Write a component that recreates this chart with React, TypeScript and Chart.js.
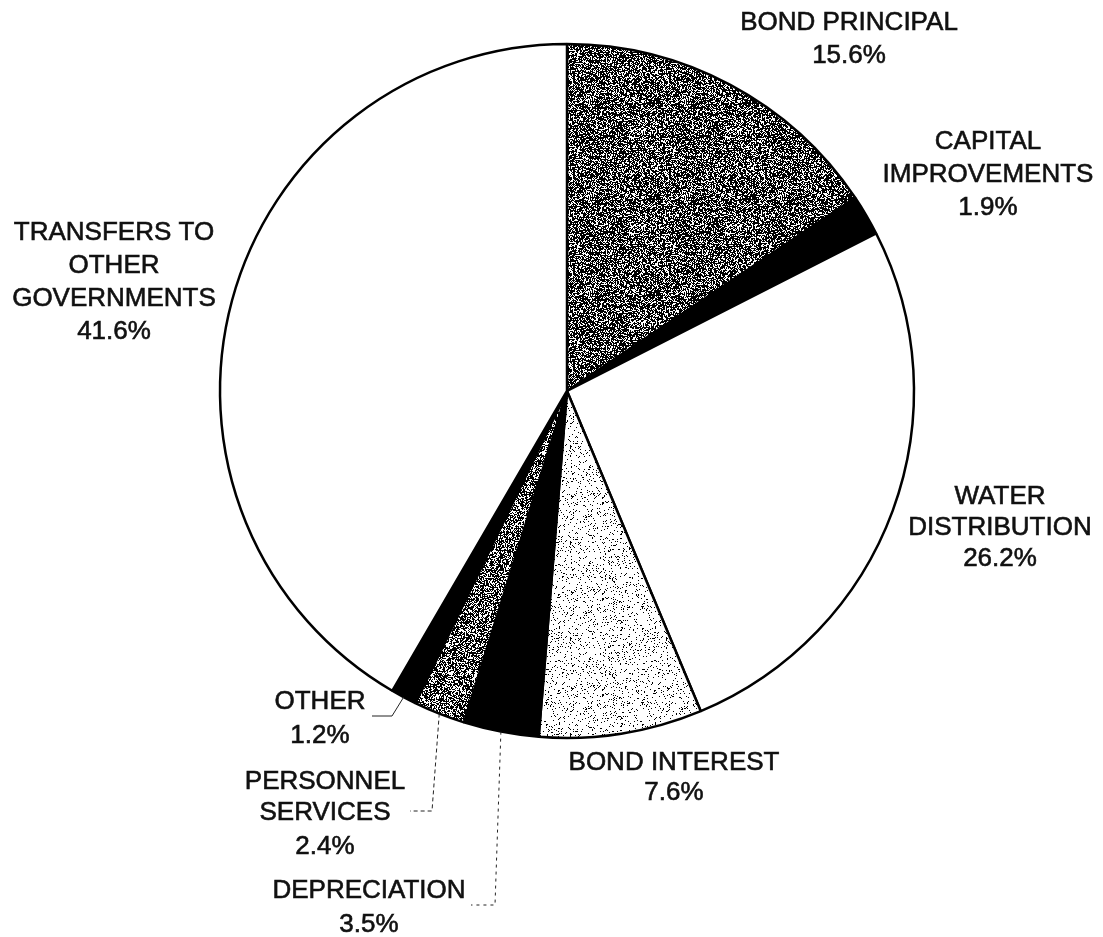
import React, { useEffect, useRef } from "react";
import { Chart, registerables } from "chart.js";

Chart.register(...registerables);

// ---- data ----
const categories = [
  "BOND PRINCIPAL",
  "CAPITAL IMPROVEMENTS",
  "WATER DISTRIBUTION",
  "BOND INTEREST",
  "DEPRECIATION",
  "PERSONNEL SERVICES",
  "OTHER",
  "TRANSFERS TO OTHER GOVERNMENTS",
];
const values = [15.6, 1.9, 26.2, 7.6, 3.5, 2.4, 1.2, 41.6];
const labelLines = [
  ["BOND PRINCIPAL"],
  ["CAPITAL", "IMPROVEMENTS"],
  ["WATER", "DISTRIBUTION"],
  ["BOND INTEREST"],
  ["DEPRECIATION"],
  ["PERSONNEL", "SERVICES"],
  ["OTHER"],
  ["TRANSFERS TO", "OTHER", "GOVERNMENTS"],
];

// ---- layout / style ----
const W = 1103;
const H = 937;
const FONT = '26px "Liberation Sans", Arial, Helvetica, sans-serif';
// label anchor: x center, y cap-centers of each line (name lines + percent line)
const labelPos: { x: number; ys: number[] }[] = [
  { x: 849, ys: [20, 53] },
  { x: 988, ys: [139, 172, 205] },
  { x: 1000, ys: [494, 525, 556] },
  { x: 674, ys: [760, 790] },
  { x: 369, ys: [888, 922] },
  { x: 325, ys: [779, 810, 844] },
  { x: 320, ys: [699, 733] },
  { x: 114, ys: [230, 263, 296, 329] },
];
// leader lines: elbow and end points, dash pattern
const leaders: { idx: number; elbow: [number, number]; end: [number, number]; dash: number[] }[] = [
  { idx: 6, elbow: [392, 716], end: [372, 716], dash: [] },
  { idx: 5, elbow: [432, 811], end: [410, 811], dash: [4, 3] },
  { idx: 4, elbow: [495, 905], end: [471, 905], dash: [3, 4] },
];

function hash(x: number, y: number, seed: number): number {
  let h = Math.imul(x, 374761393) + Math.imul(y, 668265263) + Math.imul(seed, 1442695041);
  h = Math.imul(h ^ (h >>> 13), 1274126177);
  h ^= h >>> 16;
  return (h >>> 0) / 4294967296;
}

function makeStipple(darkFraction: number, seed: number): CanvasPattern | string {
  const size = 96;
  const c = document.createElement("canvas");
  c.width = size;
  c.height = size;
  const ctx = c.getContext("2d");
  if (!ctx) return "#888";
  const img = ctx.createImageData(size, size);
  for (let y = 0; y < size; y++) {
    for (let x = 0; x < size; x++) {
      const r = hash(x, y, seed);
      const v = r < darkFraction ? 0 : 255;
      const i = (y * size + x) * 4;
      img.data[i] = v;
      img.data[i + 1] = v;
      img.data[i + 2] = v;
      img.data[i + 3] = 255;
    }
  }
  ctx.putImageData(img, 0, 0);
  const p = ctx.createPattern(c, "repeat");
  return p || "#888";
}

const labelPlugin = {
  id: "pieLabels",
  afterDraw(chart: any) {
    const ctx = chart.ctx as CanvasRenderingContext2D;
    const meta = chart.getDatasetMeta(0);
    ctx.save();
    // leader lines
    ctx.strokeStyle = "#222";
    ctx.lineWidth = 1;
    for (const l of leaders) {
      const arc = meta.data[l.idx] as any;
      const p = arc.getProps(["x", "y", "startAngle", "endAngle", "outerRadius"], true);
      const mid = (p.startAngle + p.endAngle) / 2;
      const sx = p.x + Math.cos(mid) * p.outerRadius;
      const sy = p.y + Math.sin(mid) * p.outerRadius;
      ctx.setLineDash(l.dash);
      ctx.beginPath();
      ctx.moveTo(sx, sy);
      ctx.lineTo(l.elbow[0], l.elbow[1]);
      ctx.lineTo(l.end[0], l.end[1]);
      ctx.stroke();
    }
    ctx.setLineDash([]);
    // labels
    ctx.font = FONT;
    ctx.fillStyle = "#111";
    ctx.strokeStyle = "#111";
    ctx.lineWidth = 0.6;
    ctx.textAlign = "center";
    ctx.textBaseline = "alphabetic";
    values.forEach((v, i) => {
      const lines = [...labelLines[i], `${v.toFixed(1)}%`];
      const pos = labelPos[i];
      lines.forEach((t, j) => {
        ctx.fillText(t, pos.x, pos.ys[j] + 9.5);
        ctx.strokeText(t, pos.x, pos.ys[j] + 9.5);
      });
    });
    ctx.restore();
  },
};

export default function App() {
  const ref = useRef<HTMLCanvasElement | null>(null);
  useEffect(() => {
    if (!ref.current) return;
    const darkA = makeStipple(0.66, 1);
    const darkB = makeStipple(0.6, 7);
    const light = makeStipple(0.1, 3);
    const colors = [darkA, "#000", "#fff", light, "#000", darkB, "#000", "#fff"];
    const chart = new Chart(ref.current, {
      type: "pie",
      data: {
        labels: categories,
        datasets: [
          {
            data: values,
            backgroundColor: colors as any,
            borderColor: "#000",
            borderWidth: 2.5,
          },
        ],
      },
      options: {
        responsive: false,
        animation: false,
        devicePixelRatio: 1,
        radius: 347,
        layout: { padding: { left: 31, right: 0, top: 0, bottom: 155 } },
        plugins: {
          legend: { display: false },
          tooltip: { enabled: false },
        },
      } as any,
      plugins: [labelPlugin],
    });
    return () => chart.destroy();
  }, []);
  return (
    <div style={{ position: "absolute", left: 0, top: 0, width: W, height: H, background: "#fff" }}>
      <canvas ref={ref} width={W} height={H} style={{ display: "block" }} />
    </div>
  );
}
